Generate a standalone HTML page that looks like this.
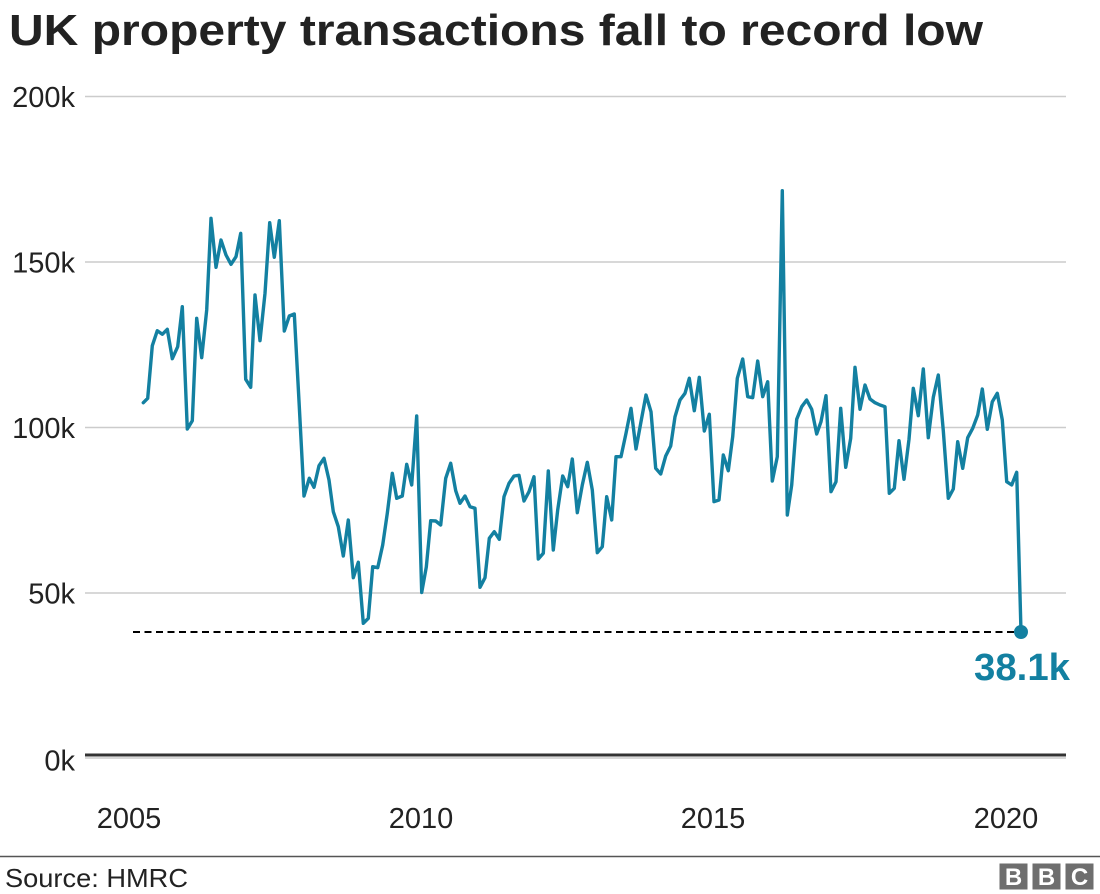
<!DOCTYPE html>
<html>
<head>
<meta charset="utf-8">
<style>
html,body{margin:0;padding:0;background:#fff;}
svg{display:block;}
text{font-family:"Liberation Sans",Arial,sans-serif;}
</style>
</head>
<body>
<svg width="1100" height="894" viewBox="0 0 1100 894" xmlns="http://www.w3.org/2000/svg">
  <rect width="1100" height="894" fill="#fff"/>
  <!-- Title -->
  <text x="9" y="45" font-size="44" font-weight="bold" fill="#222" textLength="974" lengthAdjust="spacingAndGlyphs">UK property transactions fall to record low</text>

  <!-- Gridlines -->
  <g stroke="#cccccc" stroke-width="1.5">
    <line x1="85" y1="96.5" x2="1066" y2="96.5"/>
    <line x1="85" y1="262" x2="1066" y2="262"/>
    <line x1="85" y1="427.5" x2="1066" y2="427.5"/>
    <line x1="85" y1="593" x2="1066" y2="593"/>
    <line x1="85" y1="758" x2="1066" y2="758"/>
  </g>
  <line x1="85" y1="755" x2="1066" y2="755" stroke="#333" stroke-width="3"/>

  <!-- Y labels -->
  <g font-size="29" fill="#222" text-anchor="end">
    <text x="75" y="107">200k</text>
    <text x="75" y="272.5">150k</text>
    <text x="75" y="438">100k</text>
    <text x="75" y="603.5">50k</text>
    <text x="75" y="770.5">0k</text>
  </g>

  <!-- X labels -->
  <g font-size="29" fill="#222" text-anchor="middle">
    <text x="129" y="828">2005</text>
    <text x="421" y="828">2010</text>
    <text x="713" y="828">2015</text>
    <text x="1006" y="828">2020</text>
  </g>

  <!-- Dashed reference line -->
  <line x1="133" y1="632" x2="1021" y2="632" stroke="#000" stroke-width="2" stroke-dasharray="7,4.5"/>

  <!-- Series -->
  <polyline fill="none" stroke="#1380A1" stroke-width="3.4" stroke-linejoin="round" stroke-linecap="round" points="143.3,402.7 147.7,398.3 152.3,345.7 157.3,330.7 162.3,334.3 167.3,329.3 172.3,358.7 177.7,346.7 182.3,306.7 187.3,429 192.3,420.7 196.7,318.3 201.7,357.7 206.7,310 211,218.3 216,267.3 221,240 226,255 231,264.3 236,256.7 240.7,233.3 245.7,379.3 250.7,387.3 255,295 260,340.7 265,293.3 269.7,222.7 274.3,257.3 279.3,220.7 284.3,331 289.3,316 294.3,314 299.3,406.7 304,496 309.3,478.3 314,487.3 319,465.7 324,458.3 329,480 333.3,511.7 338.3,526.7 343.3,556 348.3,520 353.3,577.7 358.3,562.3 363.3,623.3 368.3,618.3 372.7,566.7 377.7,567.7 382.7,545 387.3,513.3 392.3,473.3 396.7,498.3 402.3,496 406.7,464.3 411.7,485 416.7,416 421.7,592.5 426.3,567 430.7,520.7 435.7,521 440.7,525 445.7,478.3 450.7,463.3 455.7,490.7 460,503.3 465,496 470,506.7 475,508.3 480,587.3 485,577.7 489.3,538.3 494.3,531.7 499.3,539.3 504,496.7 509,483.3 514,476 519,475.3 524,501 529,491.7 534,476.7 538.3,559 543.3,553.3 548.3,471 553.3,550 557.7,510 562.7,476 567.7,486.7 572.3,459 577.3,512.7 582.3,485 587.3,462.3 592.3,490 597.3,552.7 602.3,546.7 606.7,496.7 611.7,520 616,456.7 621,456.7 626,433.3 631,408.3 636,449 641,421.7 646,395 651,411.7 655.7,468.3 660.7,474 665.7,456 670.7,446 675,416.7 680,400 685,393.3 689.3,378.3 694.3,410.7 699.3,377.3 704.3,431 709.3,414.3 714,501.7 719,500 723.3,455 728.3,470.7 732.7,436.7 737.3,378.3 742.7,359 747.7,396.7 752.7,397.7 757.7,361 762.7,396.7 767.7,381.7 772.3,481 777.3,456.7 782.3,190.7 787.3,515 791.7,485 796.7,419.3 801.7,406.7 806.7,400 811.7,409.3 816.7,434 821,421.7 826,395.7 831,491.7 836,481.7 840.7,408.3 845.7,467.3 850.7,438.3 855,367.3 860,409.3 865,385 870,399 875,402.7 880,405 885,406.7 889.3,493.3 894.3,488.3 899,440.7 904,479.3 909,439.3 913.3,388.3 918.3,415.7 923.3,369 928.3,437.7 933.3,397.3 938.3,375 943.3,430.7 948.3,498.3 953.3,489 957.7,441.7 962.7,468.3 967.7,437.7 972.7,428.3 977.7,415 982.3,389 987.3,429.3 992.3,401.7 997.3,393.3 1002.3,420 1006.7,481.7 1011.7,485 1016.7,472.3 1021,632"/>
  <circle cx="1021" cy="632" r="7" fill="#1380A1"/>
  <text x="1070" y="680" font-size="38" font-weight="bold" fill="#1380A1" text-anchor="end" textLength="96" lengthAdjust="spacingAndGlyphs">38.1k</text>

  <!-- Footer -->
  <line x1="0" y1="856.5" x2="1100" y2="856.5" stroke="#555" stroke-width="1.5"/>
  <text x="5" y="887" font-size="26" fill="#222" textLength="183" lengthAdjust="spacingAndGlyphs">Source: HMRC</text>
  <g>
    <rect x="999.5" y="863.5" width="28" height="26" fill="#6e6e6e"/>
    <rect x="1032.5" y="863.5" width="28" height="26" fill="#6e6e6e"/>
    <rect x="1065.5" y="863.5" width="28" height="26" fill="#6e6e6e"/>
    <g font-size="24" font-weight="bold" fill="#fff" text-anchor="middle">
      <text x="1013.5" y="885">B</text>
      <text x="1046.5" y="885">B</text>
      <text x="1079.5" y="885">C</text>
    </g>
  </g>
</svg>
</body>
</html>
